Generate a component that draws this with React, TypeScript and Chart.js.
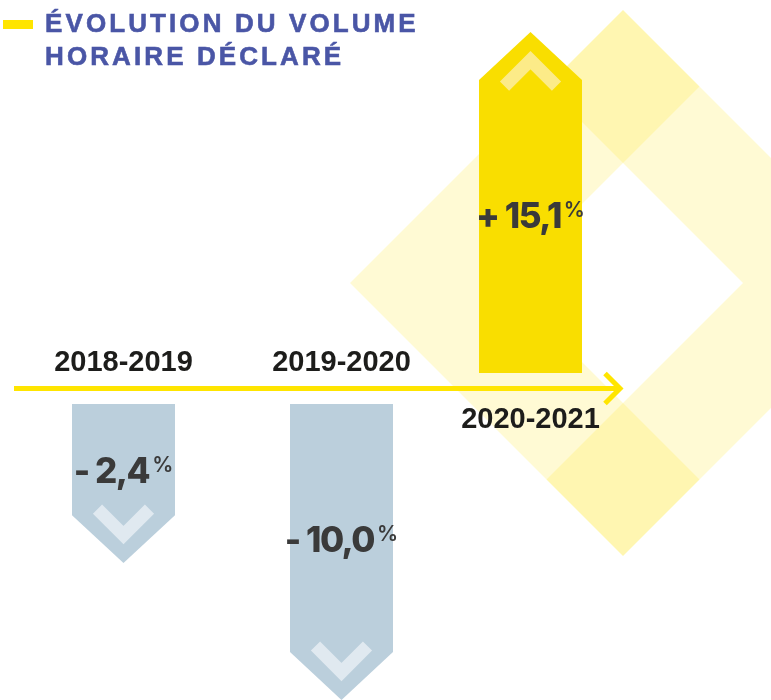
import React, { useEffect, useRef } from "react";
import { Chart, registerables } from "chart.js";

Chart.register(...registerables);

// ---------- data ----------
const titleLines = ["ÉVOLUTION DU VOLUME", "HORAIRE DÉCLARÉ"];
const periods = ["2018-2019", "2019-2020", "2020-2021"];
const evolutionPct = [-2.4, -10.0, 15.1];

const hausse = evolutionPct.map((v) => (v > 0 ? v : null));
const baisse = evolutionPct.map((v) => (v < 0 ? -v : null));

// magnitude scales (log), one going up and one going down from the axis
const UP_MIN = 0.01435;
const UP_MAX = 21.1;
const UP_BASE = 0.433;
const DOWN_MIN = 0.0068;
const DOWN_MAX = 10;
const DOWN_BASE = 0.458;

const COLORS = {
  up: "#F9DE00",
  down: "#BBCFDC",
  upChevron: "#FCEB88",
  downChevron: "#E0E9F0",
  axis: "#FFE500",
  label: "#1D1D1B",
  value: "#3A3A3A",
  title: "#4A56A6",
  ring: "rgba(255, 226, 0, 0.17)",
};

function fmt(v: number) {
  return (v < 0 ? "- " : "+ ") + Math.abs(v).toFixed(1).replace(".", ",");
}

function axisY(chart: any) {
  const up = chart.scales.yUp.getPixelForValue(UP_BASE);
  const down = chart.scales.yDown.getPixelForValue(DOWN_BASE);
  return (up + down) / 2;
}

const decorPlugin = {
  id: "decor",
  beforeDatasetsDraw(chart: any) {
    const { ctx } = chart;
    ctx.save();
    // background diamond ring made of two chevrons
    const cx = 623, cy = 283, R = 273, r = 120;
    const h = (R - r) / 2, k = (R + r) / 2;
    ctx.fillStyle = COLORS.ring;
    ctx.beginPath();
    ctx.moveTo(cx, cy - R);
    ctx.lineTo(cx - R, cy);
    ctx.lineTo(cx, cy + R);
    ctx.lineTo(cx + h, cy + k);
    ctx.lineTo(cx - r, cy);
    ctx.lineTo(cx + h, cy - k);
    ctx.closePath();
    ctx.fill();
    ctx.beginPath();
    ctx.moveTo(cx, cy - R);
    ctx.lineTo(cx + R, cy);
    ctx.lineTo(cx, cy + R);
    ctx.lineTo(cx - h, cy + k);
    ctx.lineTo(cx + r, cy);
    ctx.lineTo(cx - h, cy - k);
    ctx.closePath();
    ctx.fill();

    // axis arrow
    const ya = axisY(chart);
    ctx.strokeStyle = COLORS.axis;
    ctx.lineWidth = 5;
    ctx.lineCap = "butt";
    ctx.lineJoin = "miter";
    ctx.beginPath();
    ctx.moveTo(14, ya);
    ctx.lineTo(619, ya);
    ctx.stroke();
    ctx.beginPath();
    ctx.moveTo(605, ya - 15);
    ctx.lineTo(620, ya);
    ctx.lineTo(605, ya + 15);
    ctx.stroke();
    ctx.restore();
  },
  afterDatasetsDraw(chart: any) {
    const { ctx } = chart;
    const ya = axisY(chart);
    ctx.save();
    chart.data.datasets.forEach((ds: any, di: number) => {
      const meta = chart.getDatasetMeta(di);
      const isUp = di === 0;
      meta.data.forEach((el: any, i: number) => {
        if (ds.data[i] == null) return;
        const { x, y, base, width } = el.getProps(["x", "y", "base", "width"], true);
        const dir = y > base ? 1 : -1;
        const hw = width / 2;
        const head = hw * 0.93;
        const shoulder = y - dir * head;
        // arrow-shaped bar
        ctx.fillStyle = isUp ? COLORS.up : COLORS.down;
        ctx.beginPath();
        ctx.moveTo(x - hw, base);
        ctx.lineTo(x + hw, base);
        ctx.lineTo(x + hw, shoulder);
        ctx.lineTo(x, y);
        ctx.lineTo(x - hw, shoulder);
        ctx.closePath();
        ctx.fill();
        // chevron inside the tip
        const apex = y - dir * 28;
        ctx.strokeStyle = isUp ? COLORS.upChevron : COLORS.downChevron;
        ctx.lineWidth = 13;
        ctx.lineCap = "butt";
        ctx.lineJoin = "miter";
        ctx.beginPath();
        ctx.moveTo(x - 26, apex - dir * 26);
        ctx.lineTo(x, apex);
        ctx.lineTo(x + 26, apex - dir * 26);
        ctx.stroke();

        // value label
        const bodyCenter = (base + shoulder) / 2;
        const capCenter = bodyCenter + dir * 11;
        const F = 35;
        const Fp = 21;
        const main = fmt(evolutionPct[i]);
        ctx.fillStyle = COLORS.value;
        ctx.textBaseline = "alphabetic";
        ctx.textAlign = "left";
        ctx.font = `800 ${F}px Inter`;
        (ctx as any).letterSpacing = "-1.5px";
        const wm = ctx.measureText(main).width;
        ctx.font = `600 ${Fp}px Inter`;
        (ctx as any).letterSpacing = "0px";
        const wp = ctx.measureText("%").width;
        const gap = 3;
        const total = wm + gap + wp;
        const sx = x - total / 2;
        const capTop = capCenter - (0.727 * F) / 2;
        ctx.font = `800 ${F}px Inter`;
        (ctx as any).letterSpacing = "-1.5px";
        ctx.fillText(main, sx, capCenter + (0.727 * F) / 2);
        ctx.font = `600 ${Fp}px Inter`;
        (ctx as any).letterSpacing = "0px";
        ctx.fillText("%", sx + wm + gap, capTop - 1 + 0.727 * Fp);

        // period label
        ctx.fillStyle = COLORS.label;
        ctx.font = "bold 29px 'Liberation Sans'";
        ctx.textAlign = "center";
        ctx.fillText(periods[i], x, isUp ? ya + 39.5 : ya - 17.5);
      });
    });
    ctx.restore();
  },
};

export default function App() {
  const ref = useRef<HTMLCanvasElement>(null);

  useEffect(() => {
    const barOpts = {
      backgroundColor: "rgba(0,0,0,0)",
      borderWidth: 0,
      categoryPercentage: 0.266,
      barPercentage: 3.552,
    };
    const chart = new Chart(ref.current as HTMLCanvasElement, {
      type: "bar",
      data: {
        labels: periods,
        datasets: [
          { label: "Hausse", data: hausse, yAxisID: "yUp", base: UP_BASE, ...barOpts } as any,
          { label: "Baisse", data: baisse, yAxisID: "yDown", base: DOWN_BASE, ...barOpts } as any,
        ],
      },
      options: {
        responsive: false,
        animation: false,
        events: [],
        layout: { padding: { left: 0, right: 117, top: 0, bottom: 0 } },
        plugins: {
          legend: { display: false },
          tooltip: { enabled: false },
          title: { display: false },
        },
        scales: {
          x: { display: false, stacked: false },
          yUp: {
            type: "logarithmic",
            display: false,
            stacked: false,
            min: UP_MIN,
            max: UP_MAX,
          },
          yDown: {
            type: "logarithmic",
            display: false,
            stacked: false,
            reverse: true,
            min: DOWN_MIN,
            max: DOWN_MAX,
          },
        } as any,
      },
      plugins: [decorPlugin],
    });
    return () => chart.destroy();
  }, []);

  return (
    <div
      style={{
        position: "absolute",
        left: 0,
        top: 0,
        width: 771,
        height: 700,
        overflow: "hidden",
        background: "#ffffff",
      }}
    >
      <canvas
        ref={ref}
        width={771}
        height={700}
        style={{ position: "absolute", left: 0, top: 0 }}
      />
      <div
        style={{
          position: "absolute",
          left: 3,
          top: 20,
          width: 30,
          height: 9,
          background: COLORS.axis,
        }}
      />
      <div
        style={{
          position: "absolute",
          left: 45,
          top: 6.5,
          fontFamily: "'Liberation Sans', Arial, sans-serif",
          fontWeight: 700,
          fontSize: 26,
          lineHeight: "33px",
          letterSpacing: "3.1px",
          color: COLORS.title,
          whiteSpace: "nowrap",
          WebkitTextStroke: "0.6px " + COLORS.title,
        }}
      >
        {titleLines.map((t) => (
          <div key={t}>{t}</div>
        ))}
      </div>
    </div>
  );
}
